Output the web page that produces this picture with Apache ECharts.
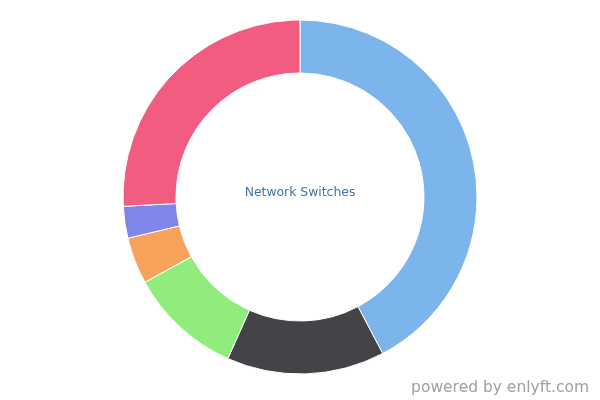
<!DOCTYPE html>
<html><head><meta charset="utf-8">
<script src="https://cdn.jsdelivr.net/npm/echarts@6/dist/echarts.min.js"></script>
<style>html,body{margin:0;padding:0;background:#fff}#c{width:600px;height:400px}</style>
</head><body><div id="c"></div>
<script>
const categories = ['A', 'B', 'C', 'D', 'E', 'F'];
const values = [42.2, 14.4, 10.3, 4.25, 2.9, 25.8];
const colors = ['#7cb5ec', '#434348', '#90ed7d', '#f7a35c', '#8085e9', '#f15c80'];
const centerTitle = 'Network Switches';
const credit = 'powered by enlyft.com';

const chart = echarts.init(document.getElementById('c'), null, {renderer: 'canvas'});
chart.setOption({
  animation: false,
  color: colors,
  graphic: [
    {type: 'text', left: 'center', top: 187, style: {text: centerTitle, fill: '#4572a7', font: '12.4px "DejaVu Sans", sans-serif'}},
    {type: 'text', right: 11, top: 380, style: {text: credit, fill: '#a0a0a0', font: '15.5px "DejaVu Sans", sans-serif'}}
  ],
  series: [{
    type: 'pie',
    center: [300, 197],
    radius: [124, 177],
    startAngle: 90,
    clockwise: true,
    label: {show: false},
    labelLine: {show: false},
    itemStyle: {borderColor: '#fff', borderWidth: 1},
    emphasis: {disabled: true},
    data: categories.map((c, i) => ({name: c, value: values[i]}))
  }]
});
</script></body></html>
